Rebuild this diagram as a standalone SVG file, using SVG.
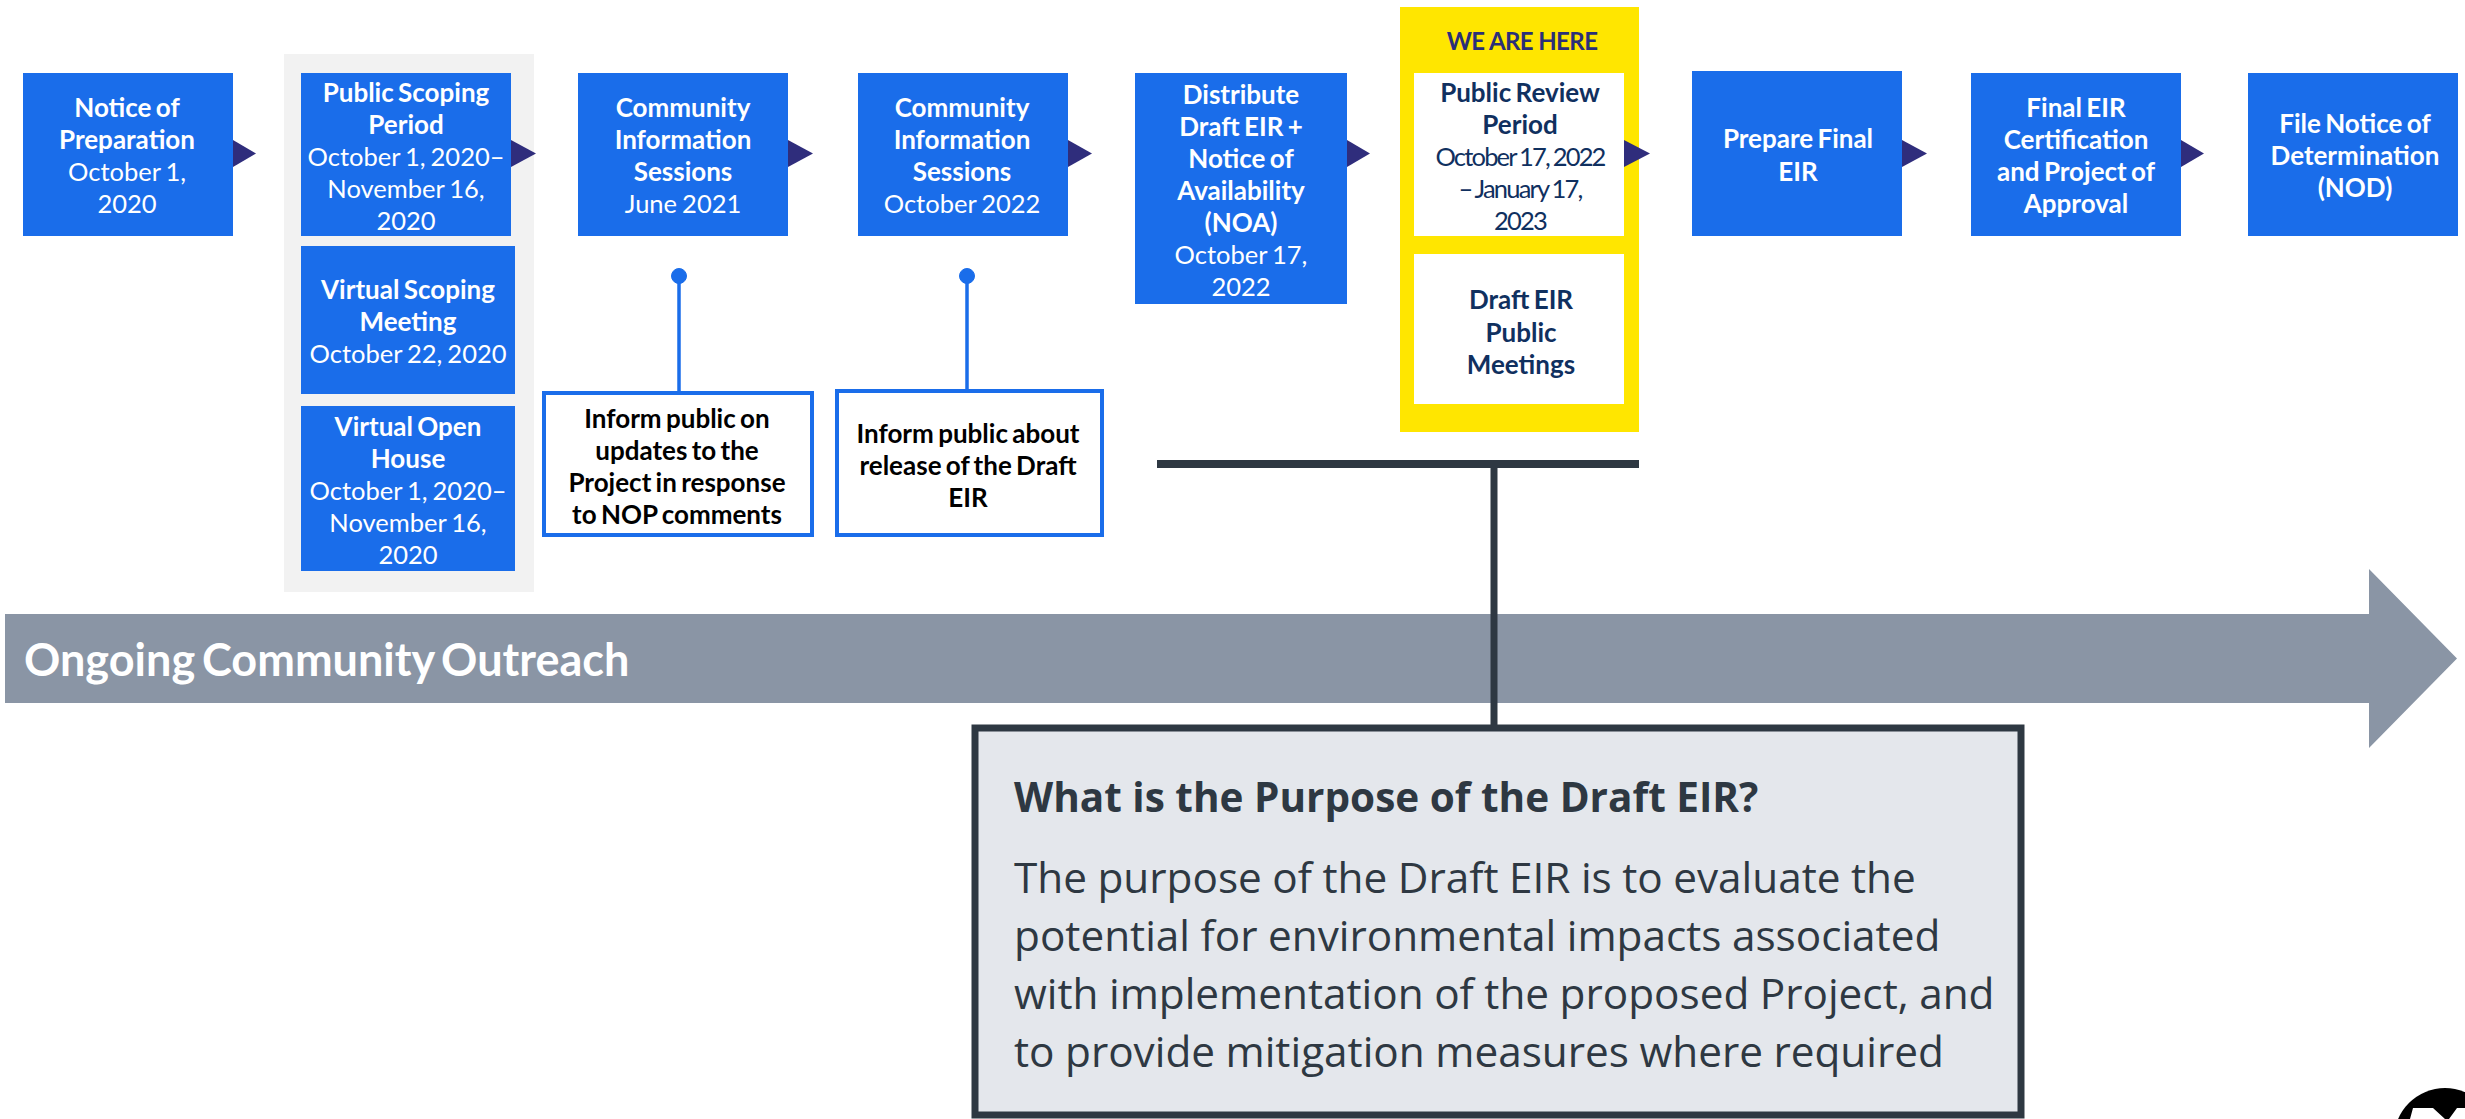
<svg xmlns="http://www.w3.org/2000/svg" width="2465" height="1119" viewBox="0 0 2465 1119">
<style>
text{font-family:"Lato","Liberation Sans",sans-serif;text-anchor:middle;font-size:25.500px;word-spacing:-1.500px}
.blue{fill:#1a6dea}.w{fill:#fff}.b{font-weight:700;font-size:26px;word-spacing:-2px}.n{fill:#2b2f78}.navy{fill:#10305f}.k{fill:#000}
.tight{letter-spacing:-1.800px;word-spacing:-1px}
.arrow{fill:#2f2d7c}
.out{fill:#fff;stroke:#1a6dea;stroke-width:4}
.o{font-family:"Open Sans","Noto Sans",sans-serif;text-anchor:start;fill:#2e3842}
.p{font-size:42.300px;word-spacing:-.5px}
</style>
<rect width="2465" height="1119" fill="#fff"/>
<g id="scoping-panel"><rect fill="#f2f2f2" x="284" y="54" width="250" height="538"/></g>
<g id="connectors">
<g class="arrow">
<path d="M233 140L256 153.500L233 167Z"/>
<path d="M511 140L536 153.500L511 167Z"/>
<path d="M788 140L813 153.500L788 167Z"/>
<path d="M1068 140L1092 153.500L1068 167Z"/>
<path d="M1347 140L1370 153.500L1347 167Z"/>
<path d="M1902 140L1927 153.500L1902 167Z"/>
<path d="M2181 140L2204 153.500L2181 167Z"/>
</g>
<g fill="#1a6dea" stroke="#1a6dea">
<path d="M679 276V392" stroke-width="3.500"/><circle cx="679" cy="276" r="7.500"/>
<path d="M967 276V389" stroke-width="3.500"/><circle cx="967" cy="276" r="7.500"/>
</g>
<path d="M1157 464H1639" stroke="#2e3842" stroke-width="8"/>
</g>
<g id="banner"><path d="M5 614H2369V569L2457 658.500L2369 748V703H5Z" fill="#8a95a5"/>
<text x="24" y="676" class="w b" style="text-anchor:start;font-size:45px;word-spacing:-4px">Ongoing Community Outreach</text></g>
<path d="M1494 468V726" stroke="#2e3842" stroke-width="7"/>
<g id="n1"><rect class="blue" x="23" y="73" width="210" height="163"/>
<text class="w b" x="127" y="117">Notice of</text><text class="w b" x="127" y="149">Preparation</text><text class="w" x="127" y="181">October 1,</text><text class="w" x="127" y="213">2020</text></g>
<g id="n2"><rect class="blue" x="301" y="73" width="210" height="163"/>
<text class="w b" x="406" y="102">Public Scoping</text><text class="w b" x="406" y="134">Period</text><text class="w" x="406" y="166">October 1, 2020–</text><text class="w" x="406" y="198">November 16,</text><text class="w" x="406" y="230">2020</text></g>
<g id="n3"><rect class="blue" x="301" y="246" width="214" height="148"/>
<text class="w b" x="408" y="299">Virtual Scoping</text><text class="w b" x="408" y="331">Meeting</text><text class="w" x="408" y="363">October 22, 2020</text></g>
<g id="n4"><rect class="blue" x="301" y="406" width="214" height="165"/>
<text class="w b" x="408" y="436">Virtual Open</text><text class="w b" x="408" y="468">House</text><text class="w" x="408" y="500">October 1, 2020–</text><text class="w" x="408" y="532">November 16,</text><text class="w" x="408" y="564">2020</text></g>
<g id="n5"><rect class="blue" x="578" y="73" width="210" height="163"/>
<text class="w b" x="683" y="117">Community</text><text class="w b" x="683" y="149">Information</text><text class="w b" x="683" y="181">Sessions</text><text class="w" x="683" y="213">June 2021</text></g>
<g id="n6"><rect class="out" x="544" y="393" width="268" height="142"/>
<text class="k b" x="677" y="428">Inform public on</text><text class="k b" x="677" y="460">updates to the</text><text class="k b" x="677" y="492">Project in response</text><text class="k b" x="677" y="524">to NOP comments</text></g>
<g id="n7"><rect class="blue" x="858" y="73" width="210" height="163"/>
<text class="w b" x="962" y="117">Community</text><text class="w b" x="962" y="149">Information</text><text class="w b" x="962" y="181">Sessions</text><text class="w" x="962" y="213">October 2022</text></g>
<g id="n8"><rect class="out" x="837" y="391" width="265" height="144"/>
<text class="k b" x="968" y="443">Inform public about</text><text class="k b" x="968" y="475">release of the Draft</text><text class="k b" x="968" y="507">EIR</text></g>
<g id="n9"><rect class="blue" x="1135" y="73" width="212" height="231"/>
<text class="w b" x="1241" y="104">Distribute</text><text class="w b" x="1241" y="136">Draft EIR +</text><text class="w b" x="1241" y="168">Notice of</text><text class="w b" x="1241" y="200">Availability</text><text class="w b" x="1241" y="232">(NOA)</text><text class="w" x="1241" y="264">October 17,</text><text class="w" x="1241" y="296">2022</text></g>
<g id="n10"><rect fill="#ffe600" x="1400" y="7" width="239" height="425"/>
<text class="n b" x="1522" y="50" style="font-size:24px;letter-spacing:-.6px;word-spacing:0">WE ARE HERE</text>
<rect class="w" x="1414" y="73" width="210" height="163"/>
<text class="navy b" x="1520" y="102">Public Review</text><text class="navy b" x="1520" y="134">Period</text><text class="navy tight" x="1520" y="166">October 17, 2022</text><text class="navy tight" x="1520" y="198">– January 17,</text><text class="navy tight" x="1520" y="230">2023</text>
<rect class="w" x="1414" y="254" width="210" height="150"/>
<text class="navy b" x="1521" y="309">Draft EIR</text><text class="navy b" x="1521" y="342">Public</text><text class="navy b" x="1521" y="374">Meetings</text></g>
<path class="arrow" d="M1624 140L1650 153.500L1624 167Z"/>
<g id="n11"><rect class="blue" x="1692" y="71" width="210" height="165"/>
<text class="w b" x="1798" y="148">Prepare Final</text><text class="w b" x="1798" y="181">EIR</text></g>
<g id="n12"><rect class="blue" x="1971" y="73" width="210" height="163"/>
<text class="w b" x="2076" y="117">Final EIR</text><text class="w b" x="2076" y="149">Certification</text><text class="w b" x="2076" y="181">and Project of</text><text class="w b" x="2076" y="213">Approval</text></g>
<g id="n13"><rect class="blue" x="2248" y="73" width="210" height="163"/>
<text class="w b" x="2355" y="133">File Notice of</text><text class="w b" x="2355" y="165">Determination</text><text class="w b" x="2355" y="197">(NOD)</text></g>
<g id="purpose"><rect x="975" y="728" width="1046" height="387" fill="#e4e7ec" stroke="#2e3842" stroke-width="7"/>
<text class="o" x="1014" y="812" style="font-size:40.500px;font-weight:700;word-spacing:0">What is the Purpose of the Draft EIR?</text>
<text class="o p" x="1014" y="893">The purpose of the Draft EIR is to evaluate the</text>
<text class="o p" x="1014" y="951">potential for environmental impacts associated</text>
<text class="o p" x="1014" y="1009">with implementation of the proposed Project, and</text>
<text class="o p" x="1014" y="1067">to provide mitigation measures where required</text></g>
<g id="logo"><circle cx="2445" cy="1139" r="51" fill="#000"/>
<path d="M2413 1108H2433L2445 1119H2410ZM2457 1108H2465V1119H2449Z" fill="#fff"/></g>
</svg>
